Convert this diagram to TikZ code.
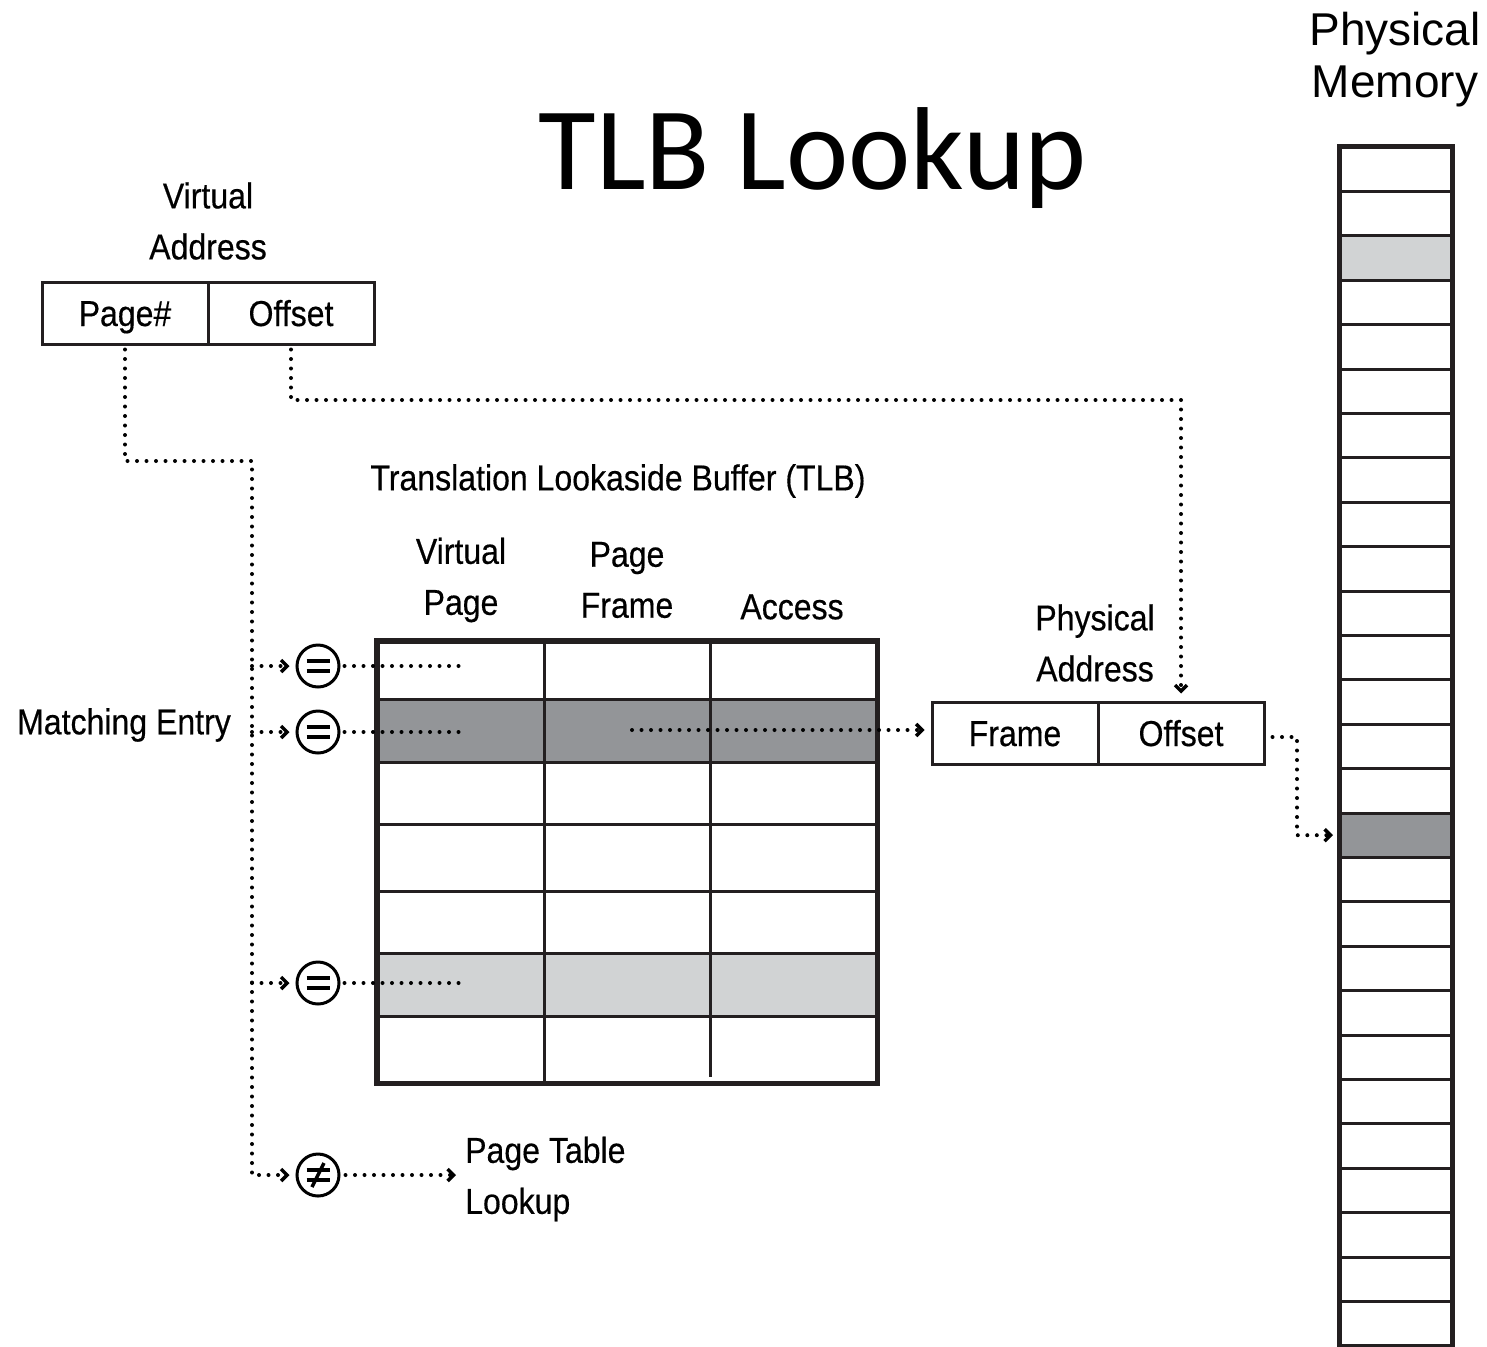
\documentclass[tikz,border=0pt]{standalone}
\usepackage{fontspec}
\setmainfont{Liberation Sans}
\newfontfamily\condf{Liberation Sans}[FakeStretch=0.89, FakeBold=0.4]
\newfontfamily\titlef{Carlito}
\usetikzlibrary{arrows.meta,calc}
\definecolor{dk}{HTML}{939598}
\definecolor{lt}{HTML}{D1D3D4}
\definecolor{ln}{HTML}{231F20}
\begin{document}
\begin{tikzpicture}[x=1pt,y=-1pt,
  lbl/.style={font=\condf\fontsize{36}{51}\selectfont, align=center, inner sep=0pt},
  field/.style={draw=ln, line width=3pt, minimum width=166pt, minimum height=62pt, inner sep=0pt, text height=26pt, text depth=0pt, font=\condf\fontsize{36}{51}\selectfont},
  dotline/.style={line width=4pt, line cap=round, dash pattern=on 0pt off 9.5pt, draw=black},
  tip/.style={-{Straight Barb[length=6pt,width=12pt,line width=3.5pt]}},
  cmp/.style={circle, draw=black, line width=3pt, minimum size=42pt, inner sep=0pt},
  eqsym/.style={path picture={
     \draw[line width=4.5pt] ($(path picture bounding box.center)+(-11.5,-5)$) -- ++(23,0);
     \draw[line width=4.5pt] ($(path picture bounding box.center)+(-11.5,5)$) -- ++(23,0);}},
  neqsym/.style={path picture={
     \draw[line width=4.5pt] ($(path picture bounding box.center)+(-11.5,-5)$) -- ++(23,0);
     \draw[line width=4.5pt] ($(path picture bounding box.center)+(-11.5,5)$) -- ++(23,0);
     \draw[line width=3.5pt] ($(path picture bounding box.center)+(-6,12)$) -- ($(path picture bounding box.center)+(6,-12)$);}},
  rowbox/.style={draw=ln, line width=3pt, minimum width=498pt, inner sep=0pt},
  memrow/.style={draw=ln, line width=3pt, minimum width=111pt, minimum height=44.4pt, inner sep=0pt}
]
\useasboundingbox (0,0) rectangle (1487,1346);

% titles
\node[font=\titlef\fontsize{118}{140}\selectfont, inner sep=0pt] (title) at (813,158) {TLB Lookup};
\node[font=\fontsize{46}{52}\selectfont, align=center, inner sep=0pt] (physmem) at (1395,60) {Physical\\Memory};

% virtual address
\node[lbl] (valbl) at (208,221) {Virtual\\Address};
\node[field] (pg) at (125,313) {Page\#};
\node[field] (off) at (291,313) {Offset};

% TLB labels
\node[lbl] (tlblbl) at (618,481) {Translation Lookaside Buffer (TLB)};
\node[lbl] (h1) at (461,580) {Virtual\\Page};
\node[lbl] (h2) at (627,580) {Page\\Frame};
\node[lbl] (h3) at (792,607) {Access};

% TLB table
\foreach \i/\a/\b/\c in {1/642/699/white,2/699/762/dk,3/762/824/white,4/824/891/white,5/891/953/white,6/953/1016/lt,7/1016/1082/white}{
  \node[rowbox, fill=\c, minimum height={\b-\a}] (r\i) at (627,{(\a+\b)/2}) {};
}
\draw[ln, line width=3pt] (r1.north -| 544,0) -- (r7.south -| 544,0);
\draw[ln, line width=3pt] (r1.north -| 710,0) -- (710,1077);
\draw[ln, line width=4.5pt] (r1.north west) rectangle (r7.south east);

% comparators
\node[cmp, eqsym] (c1) at (318,666) {};
\node[cmp, eqsym] (c2) at (318,732) {};
\node[cmp, eqsym] (c3) at (318,983) {};
\node[cmp, neqsym] (c4) at (318,1175) {};

\node[lbl] (match) at (124,725) {Matching Entry};
\node[lbl, align=left, anchor=west] (ptl) at (465,1179) {Page Table\\Lookup};

% physical address
\node[lbl] (palbl) at (1095,643) {Physical\\Address};
\node[field] (paf) at (1015,733) {Frame};
\node[field] (pao) at (1181,733) {Offset};

% memory
\foreach \i in {1,...,27}{
  \ifnum\i=3 \def\fc{lt}\else\ifnum\i=16 \def\fc{dk}\else\def\fc{white}\fi\fi
  \pgfmathsetmacro\yc{147+44.4*(\i-0.5)}
  \node[memrow, fill=\fc] (m\i) at (1396,\yc) {};
}
\draw[ln, line width=4pt] (m1.north west) rectangle (m27.south east);

% connectors
\coordinate (j0) at (252,461);
\draw[dotline, tip, shorten <=4pt, shorten >=6pt] (pg.south) |- (j0) |- (c4.west);
\draw[dotline, tip, shorten >=6pt] (j0 |- c1.west) -- (c1.west);
\draw[dotline, tip, shorten >=6pt] (j0 |- c2.west) -- (c2.west);
\draw[dotline, tip, shorten >=6pt] (j0 |- c3.west) -- (c3.west);

\coordinate (d1) at (460,666);
\coordinate (d2) at (460,732);
\coordinate (d3) at (460,983);
\draw[dotline, shorten <=4pt] (c1.east) -- (d1);
\draw[dotline, shorten <=4pt] (c2.east) -- (d2);
\draw[dotline, shorten <=4pt] (c3.east) -- (d3);
\draw[dotline, tip, shorten <=5pt, shorten >=9pt] (c4.east) -- (ptl.west |- c4.east);

\draw[dotline, tip, shorten <=4pt, shorten >=7pt] (off.south) |- (pao.north |- 0,400) -- (pao.north);

\coordinate (fs) at (632,730);
\draw[dotline, tip, shorten >=6pt] (fs) -- (fs -| paf.west);

\coordinate (bend) at (1297,737);
\draw[dotline, tip, shorten <=7pt, shorten >=6pt] (pao.east |- bend) -- (bend) |- (m16.west);
\end{tikzpicture}
\end{document}
